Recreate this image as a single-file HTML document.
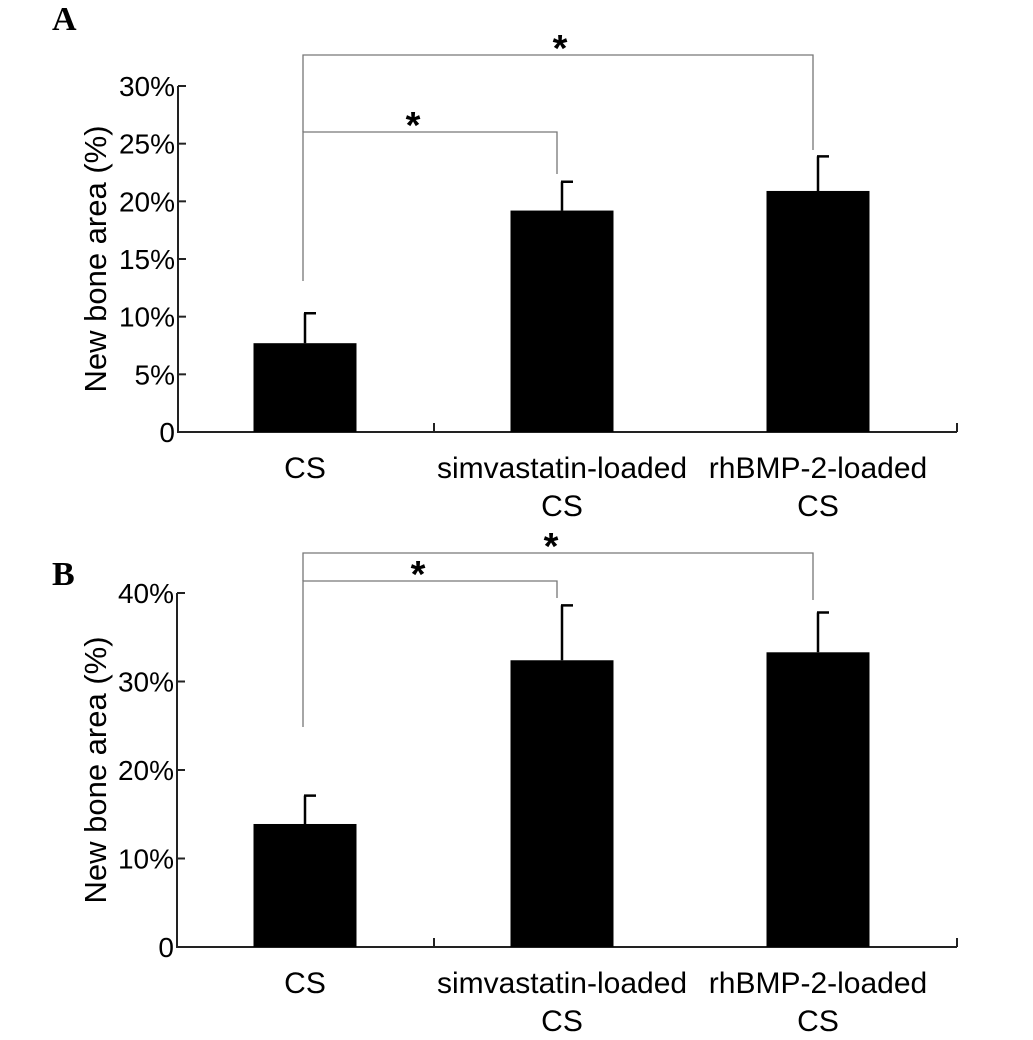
<!DOCTYPE html>
<html><head><meta charset="utf-8"><style>body{margin:0;background:#fff}svg{display:block}text{font-family:"Liberation Sans",sans-serif;fill:#000}</style></head>
<body>
<svg id="fig" width="1033" height="1040"></svg>
<script>
const categories=["CS","simvastatin-loaded|CS","rhBMP-2-loaded|CS"];
const valuesA=[7.7,19.2,20.9];
const errorsA=[2.6,2.5,3.0];
const ticksA=[0,5,10,15,20,25,30];
const tickLabelsA=["0","5%","10%","15%","20%","25%","30%"];
const valuesB=[13.9,32.4,33.3];
const errorsB=[3.2,6.2,4.5];
const ticksB=[0,10,20,30,40];
const tickLabelsB=["0","10%","20%","30%","40%"];
const NS="http://www.w3.org/2000/svg";
const svg=document.getElementById('fig');
function el(t,a,p){const e=document.createElementNS(NS,t);for(const k in a)e.setAttribute(k,a[k]);(p||svg).appendChild(e);return e;}
function panel(cfg){
 const g=el('g',{});
 
 
 const y=v=>cfg.y0-(v/cfg.max)*(cfg.y0-cfg.yTop);
 const centers=[305,562,818],bw=103;
 const L=el('text',{x:52,y:cfg.letterY,style:'font-family:"Liberation Serif",serif;font-size:34px;font-weight:bold'},g);L.textContent=cfg.letter;
 
 
 const ax=el('path',{d:`M${cfg.ax},${cfg.yTop}V${cfg.y0}H957M434,${cfg.y0}v-9M957,${cfg.y0}v-9`,stroke:'#222','stroke-width':2,fill:'none'},g);
 
 
 cfg.ticks.forEach((t,i)=>{
  el('line',{x1:cfg.ax,x2:cfg.ax+8,y1:y(t),y2:y(t),stroke:'#222','stroke-width':2},g);
  const tx=el('text',{x:cfg.ax-3,y:y(t)+10,'font-size':28,'text-anchor':'end'},g);tx.textContent=cfg.labels[i];
  
  
 });
 const yt=el('text',{transform:`translate(106,${(cfg.y0+cfg.yTop)/2}) rotate(-90)`,'font-size':31,'text-anchor':'middle'},g);yt.textContent='New bone area (%)';
 
 
 cfg.values.forEach((v,i)=>{
  const c=centers[i];
  const b=el('rect',{x:c-bw/2,y:y(v),width:bw,height:cfg.y0-y(v),fill:'#000'},g);
  
  
  const e=el('path',{d:`M${c},${y(v)}V${y(v+cfg.errors[i])}M${c-1},${y(v+cfg.errors[i])}h12`,stroke:'#000','stroke-width':2.5,fill:'none'},g);
  
  
  categories[i].split('|').forEach((s,j)=>{
   const t=el('text',{x:c,y:cfg.y0+46+j*38,'font-size':30,'text-anchor':'middle'},g);t.textContent=s;
   
   
  });
 });
 cfg.brackets.forEach(b=>{
  const p=el('path',{d:`M${centers[0]-2},${b.ys}V${b.y}H${centers[b.to]-5}V${b.ye}`,stroke:'#777','stroke-width':1.3,fill:'none'},g);
  
  
  const s=el('text',{x:b.sx,y:b.y+6,'font-size':38,'font-weight':'bold','text-anchor':'middle'},g);s.textContent='*';
  
  
 });
}
panel({letter:'A',letterY:30,ax:178,y0:432,yTop:86,max:30,ticks:ticksA,labels:tickLabelsA,values:valuesA,errors:errorsA,
 brackets:[{to:1,y:132,ys:281,ye:174,sx:413},{to:2,y:55,ys:132,ye:150,sx:560}]});
panel({letter:'B',letterY:585,ax:177,y0:947,yTop:593,max:40,ticks:ticksB,labels:tickLabelsB,values:valuesB,errors:errorsB,
 brackets:[{to:1,y:581,ys:727,ye:598,sx:418},{to:2,y:553,ys:581,ye:600,sx:551}]});
</script>
</body></html>
